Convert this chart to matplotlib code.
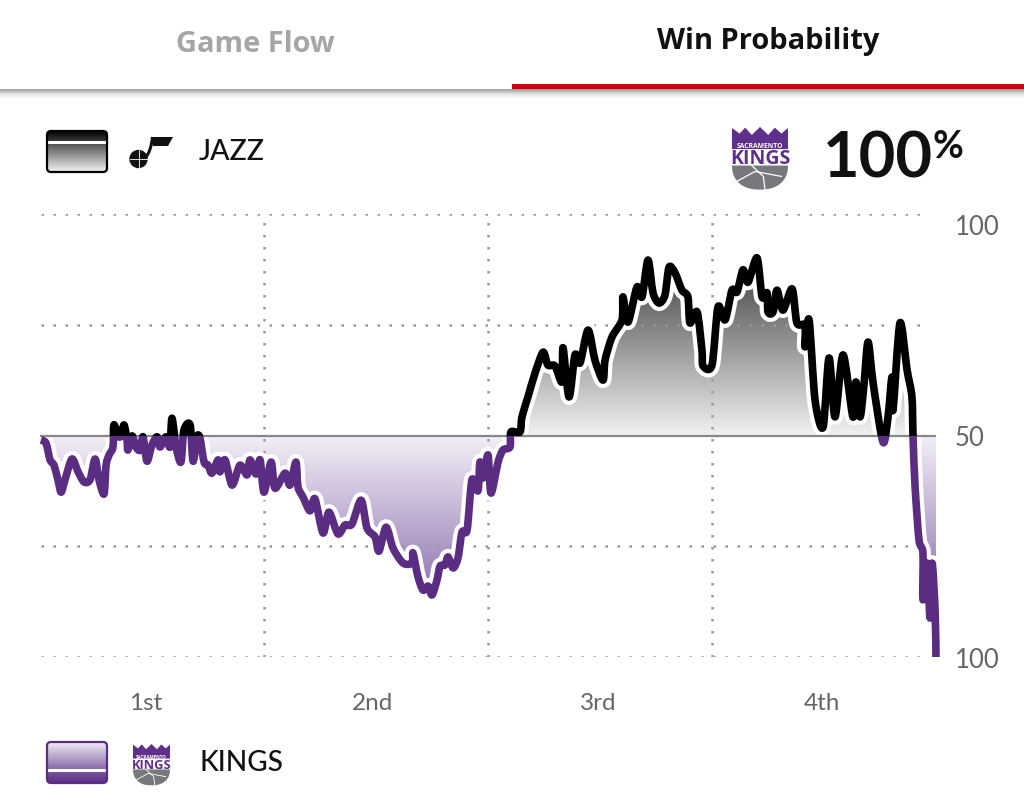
import numpy as np
import matplotlib
matplotlib.use("Agg")
import matplotlib.pyplot as plt
from matplotlib.colors import LinearSegmentedColormap
from matplotlib.patches import FancyBboxPatch, PathPatch, Polygon, Rectangle, Circle
from matplotlib.path import Path

# game clock in minutes elapsed, jazz win probability in percent
minutes = [0.05, 0.32, 0.54, 0.75, 0.96, 1.13, 1.34, 1.71, 2.04, 2.36, 2.68, 2.95, 3.16, 3.43, 3.54,
           3.70, 3.91, 3.96, 4.18, 4.34, 4.50, 4.66, 4.71, 4.93, 5.14, 5.36, 5.52, 5.73, 6.00, 6.27,
           6.43, 6.75, 6.96, 7.07, 7.29, 7.55, 7.71, 8.04, 8.20, 8.41, 8.57, 8.79, 9.00, 9.21, 9.54,
           9.64, 9.91, 10.29, 10.71, 11.09, 11.25, 11.57, 11.79, 12.00, 12.38, 12.59, 13.13, 13.39,
           13.71, 13.82, 14.09, 14.46, 14.73, 15.16, 15.48, 15.96, 16.34, 16.71, 17.20, 17.52, 17.95,
           18.16, 18.54, 18.91, 19.45, 19.93, 19.98, 20.25, 20.52, 20.79, 21.00, 21.27, 21.43, 21.70,
           21.86, 22.13, 22.39, 22.61, 22.88, 23.14, 23.46, 23.57, 23.73, 24.00, 24.16, 24.54, 24.80,
           25.18, 25.23, 25.71, 25.82, 26.14, 26.52, 26.95, 27.21, 27.59, 27.96, 28.02, 28.34, 28.66,
           28.93, 29.36, 29.73, 30.16, 30.27, 30.64, 31.18, 31.23, 31.50, 31.98, 32.25, 32.57, 32.84,
           33.16, 33.48, 33.70, 34.02, 34.39, 34.71, 34.82, 35.20, 35.46, 35.52, 36.00, 36.32, 36.70,
           37.07, 37.34, 37.66, 37.93, 38.41, 38.68, 38.95, 39.00, 39.27, 39.48, 39.80, 40.29, 40.55,
           40.98, 40.98, 41.20, 41.52, 41.95, 42.27, 42.59, 43.02, 43.55, 43.71, 43.93, 44.14, 44.36,
           44.63, 45.16, 45.43, 45.64, 45.70, 46.07, 46.45, 46.71, 46.77, 46.88, 47.09, 47.30, 47.30,
           47.52, 47.68, 47.79, 47.95, 48.00]
jazz_prob = [49.0, 48.3, 44.5, 43.3, 40.0, 37.2, 40.0, 44.7, 41.8, 39.5, 40.0, 44.7, 40.0, 36.8, 43.3,
             45.6, 47.4, 52.4, 49.9, 49.9, 52.4, 49.0, 46.7, 49.9, 47.4, 46.7, 49.7, 44.2, 47.9, 49.7,
             47.4, 49.7, 47.4, 53.9, 47.4, 44.0, 51.2, 52.4, 44.2, 49.7, 49.4, 44.0, 43.3, 41.5, 44.5,
             41.8, 44.5, 38.8, 43.3, 41.1, 44.5, 41.3, 44.5, 37.2, 44.0, 38.1, 41.5, 38.8,
             44.0, 38.4, 36.1, 33.0, 35.7, 28.0, 32.7, 27.8, 29.8, 30.0, 35.4, 29.1, 27.1,
             23.9, 29.3, 24.6, 21.2, 21.2, 23.5, 18.1, 15.1, 16.0, 14.0, 17.4, 20.5, 20.8,
             22.6, 20.1, 22.3, 28.2, 28.7, 40.0, 37.5, 44.0, 40.4, 45.6, 37.0, 44.0, 46.7,
             47.4, 50.8, 50.8, 54.2, 58.7, 64.1, 68.8, 65.9, 65.7, 62.1, 69.8, 58.7, 68.2,
             66.4, 73.8, 67.0, 62.5, 67.0, 72.2, 76.1, 81.3, 75.6, 83.5, 81.3, 89.6, 82.2,
             79.9, 81.7, 88.0, 86.7, 82.8, 81.3, 75.4, 77.9, 69.3, 65.7, 65.9, 79.0, 76.1,
             82.8, 82.4, 87.4, 84.6, 90.1, 81.3, 82.2, 77.9, 77.9, 82.8, 78.3, 83.1, 75.4,
             74.9, 70.0, 76.1, 58.0, 51.9, 67.5, 54.2, 68.2, 54.2, 62.1, 54.2, 61.4, 71.1,
             61.9, 48.5, 54.2, 63.2, 55.8, 75.4, 64.8, 58.7, 49.7, 38.4, 26.4, 23.5, 12.9,
             21.2, 8.8, 21.2, 10.6, 0.0]

quarter_ends = [12, 24, 36]
quarter_labels = ["1st", "2nd", "3rd", "4th"]
quarter_label_pos = [5.65, 17.8, 29.9, 41.9]
prob_ticks = [0, 50, 100]
prob_tick_labels = ["100", "50", "100"]
grid_levels = [0, 25, 75, 100]

PURPLE = "#5a2d82"
FONT = "Lato"
TAB_FONT = "Open Sans"
DOTS = (0, (1, 3.8))


def gradient(ax, colors, extent, clip=None, zorder=1):
    cmap = LinearSegmentedColormap.from_list("g", colors)
    im = ax.imshow(np.linspace(0, 1, 256).reshape(-1, 1), cmap=cmap, extent=extent,
                   origin="upper", aspect="auto", zorder=zorder, interpolation="bilinear")
    if clip is not None:
        im.set_clip_path(clip)
    return im


def curve_verts(x, y, tension=0.14):
    # bezier segments through every reading, the app draws its line rounded too
    pts = np.column_stack([x, y])
    before = np.vstack([pts[0], pts[:-1]])
    after = np.vstack([pts[1:], pts[-1]])
    slope = (after - before) * tension
    verts = [pts[0]]
    codes = [Path.MOVETO]
    for i in range(len(pts) - 1):
        verts += [pts[i] + slope[i], pts[i + 1] - slope[i + 1], pts[i + 1]]
        codes += [Path.CURVE4] * 3
    return verts, codes


def draw_kings_logo(ax, x0, y0, w):
    # shield drawn in the units of the big logo, 170 wide and 190 tall
    s = w / 170
    pts = lambda p: [(x0 + a * s, y0 + b * s) for a, b in p]
    crown = [(0, 3), (23, 20), (40, 2), (60, 24), (85, 0), (110, 24), (130, 2), (150, 20), (170, 3),
             (170, 67), (0, 67)]
    ax.add_patch(Polygon(pts(crown), closed=True, fc="#5f2f8c", ec="none", zorder=3))
    t = np.linspace(0, np.pi, 40)
    c = np.cos(t)
    edge_x = 85 + 85 * np.sign(c) * np.abs(c) ** 0.85
    edge_y = 117 + 73 * np.sin(t) ** 0.9
    bottom = [(0, 117)] + list(zip(edge_x, edge_y)) + [(170, 117)]
    ax.add_patch(Polygon(pts(bottom), closed=True, fc="#77787b", ec="none", zorder=3))
    # ball seams
    ax.plot(*zip(*pts([(60, 117), (95, 150), (100, 188)])), color="white", lw=0.9 * w / 56, zorder=4)
    ax.plot(*zip(*pts([(15, 165), (70, 135), (150, 150)])), color="white", lw=0.9 * w / 56, zorder=4)
    ax.text(x0 + 85 * s, y0 + 56 * s, "SACRAMENTO", color="white", ha="center", va="center",
            fontsize=4.9 * w / 56, family=TAB_FONT, fontweight="bold", zorder=4)
    ax.text(x0 + 85 * s, y0 + 93 * s, "KINGS", color="#5f2f8c", ha="center", va="center",
            fontsize=14 * w / 56, family=TAB_FONT, fontweight="bold", zorder=4)


def draw_jazz_logo(ax):
    ax.add_patch(Circle((138.5, 160), 9.2, fc="#111111", ec="none", zorder=3))
    ax.plot([129.5, 147.5], [160, 160], color="white", lw=0.6, zorder=4)
    ax.plot([138.5, 138.5], [151, 169], color="white", lw=0.6, zorder=4)
    ax.add_patch(Polygon([(152, 138), (173, 138), (168, 147), (153, 147)], closed=True,
                         fc="#111111", ec="none", zorder=3))
    stem = Path([(146, 158), (151, 152), (152.5, 138)], [Path.MOVETO, Path.CURVE3, Path.CURVE3])
    ax.add_patch(PathPatch(stem, fc="none", ec="#111111", lw=2.2, zorder=3))


def draw_swatch(ax, y0, y1, split, edge, top_colors, bottom_colors):
    box = FancyBboxPatch((47, y0), 60, y1 - y0, boxstyle="round,pad=0,rounding_size=4",
                         fc="none", ec=edge, lw=1.6, zorder=5)
    ax.add_patch(box)
    gradient(ax, top_colors, (47, 107, split - 1, y0), clip=box, zorder=3)
    gradient(ax, bottom_colors, (47, 107, y1, split + 2), clip=box, zorder=3)


def draw_chrome(ax):
    ax.set_xlim(0, 1024)
    ax.set_ylim(804, 0)
    ax.axis("off")

    # tab bar
    gradient(ax, ["#9a9a9a", "#e4e4e4", "#ffffff"], (0, 1024, 100, 90), zorder=1)
    ax.add_patch(Rectangle((512, 85), 512, 5, fc="#d0000f", ec="none", zorder=3))
    ax.text(255, 44, "Game Flow", color="#a6a6a6", fontsize=20.9, fontweight="bold", family=TAB_FONT,
            ha="center", va="center")
    ax.text(768, 42, "Win Probability", color="#111111", fontsize=20.9, fontweight="bold", family=TAB_FONT,
            ha="center", va="center")

    # jazz legend
    draw_swatch(ax, 132, 173, 143, "#000000", ["#000000", "#3a3a3a"], ["#555555", "#f4f4f4"])
    draw_jazz_logo(ax)
    ax.text(199, 152, "JAZZ", color="#111111", fontsize=20.5, family=FONT, fontweight="medium",
            ha="left", va="center")

    # kings legend
    draw_swatch(ax, 743, 784, 771, PURPLE, ["#f1edf6", "#8a6ba8"], ["#7a559f", PURPLE])
    draw_kings_logo(ax, 133, 745, 37)
    ax.text(200, 763, "KINGS", color="#111111", fontsize=20.2, family=FONT, fontweight="medium",
            ha="left", va="center")

    # current win probability
    draw_kings_logo(ax, 732, 128, 56)
    ax.text(823, 159, "100", color="#111111", fontsize=45.5, fontweight="bold", family=FONT,
            ha="left", va="center")
    ax.text(932, 147, "%", color="#111111", fontsize=27, fontweight="bold", family=FONT,
            ha="left", va="center")


def draw_chart(ax):
    x = np.array(minutes)
    y = np.array(jazz_prob)

    ax.set_xlim(0, 48)
    ax.set_ylim(0, 100)
    ax.patch.set_visible(False)
    for spine in ax.spines.values():
        spine.set_visible(False)

    # right hand labels and quarter names
    ax.yaxis.tick_right()
    ax.set_yticks(prob_ticks)
    ax.set_yticklabels(prob_tick_labels, family=FONT, fontsize=18.5, color="#666666")
    ax.get_yticklabels()[2].set_va("top")
    ax.set_xticks(quarter_label_pos)
    ax.set_xticklabels(quarter_labels, family=FONT, fontsize=17.5, color="#666666")
    ax.tick_params(axis="both", length=0)
    ax.tick_params(axis="y", pad=13.5)
    ax.tick_params(axis="x", pad=25.5)

    # dotted grid
    ax.hlines(grid_levels, 0.05, 47.6, color="#9a9a9a", lw=1.8, linestyles=DOTS, zorder=3)
    ax.vlines(quarter_ends, 0, 100, color="#9a9a9a", lw=1.8, linestyles=DOTS, zorder=3)

    verts, codes = curve_verts(x, y)
    curve = Path(verts, codes)

    # gradients below the line, one each side of 50
    area_path = Path(verts + [(x[-1], 50), (x[0], 50)], codes + [Path.LINETO, Path.LINETO])
    area = PathPatch(area_path, transform=ax.transData, fc="none", ec="none")
    ax.add_patch(area)
    gradient(ax, [(0, "#3a3a3a"), (0.25, "#4a4a4a"), (1, "#f2f2f2")], (0, 48, 50, 100), clip=area, zorder=2)
    gradient(ax, ["#f3eff7", "#6a4494"], (0, 48, 0, 50), clip=area, zorder=2)
    ax.set_xlim(0, 48)
    ax.set_ylim(0, 100)

    # white casing, base line, then the two team colours split at 50
    casing = PathPatch(curve, fc="none", ec="white", lw=11.5, joinstyle="round", capstyle="butt",
                       clip_on=False, zorder=4)
    ax.add_patch(casing)
    ax.plot([0.05, 48], [50, 50], color="#888888", lw=1.6, zorder=5)
    jazz_line = PathPatch(curve, fc="none", ec="#000000", lw=5.5, joinstyle="round", capstyle="butt", zorder=6)
    ax.add_patch(jazz_line)
    jazz_line.set_clip_path(Rectangle((-1, 50), 50, 60, transform=ax.transData))
    kings_line = PathPatch(curve, fc="none", ec=PURPLE, lw=5.5, joinstyle="round", capstyle="butt", zorder=6)
    ax.add_patch(kings_line)
    kings_line.set_clip_path(Rectangle((-1, -1), 50, 51, transform=ax.transData))


def main():
    fig = plt.figure(figsize=(10.24, 8.04), dpi=100, facecolor="white")
    chrome = fig.add_axes([0, 0, 1, 1])
    draw_chrome(chrome)
    chart = fig.add_axes([40 / 1024, 1 - 658 / 804, 896 / 1024, 443 / 804])
    draw_chart(chart)
    fig.savefig("out.png", dpi=100)


if __name__ == "__main__":
    main()
